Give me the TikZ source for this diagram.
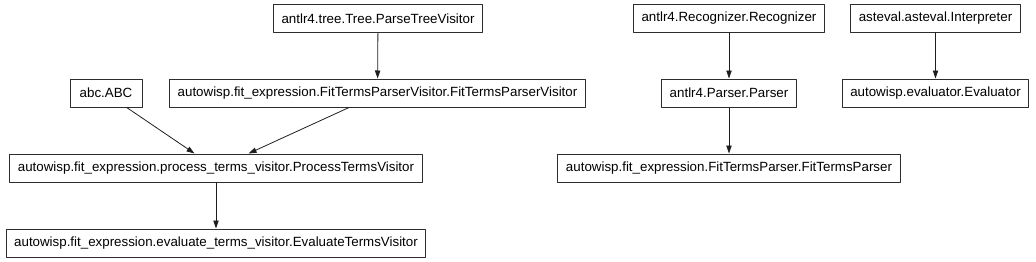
\documentclass[tikz,border=0pt]{standalone}
\usepackage{fontspec}
\setmainfont{Liberation Sans}
\usepackage{xcolor}
\usepackage{tikz}
\usetikzlibrary{arrows.meta}
\definecolor{classedge}{RGB}{45,45,45}
\definecolor{linkgray}{RGB}{30,30,30}
\tikzset{
  classbox/.style={draw=classedge, line width=.75pt, rectangle,
    inner xsep=6pt, inner ysep=0pt, minimum height=21pt, minimum width=54pt,
    font=\fontsize{10}{12}\selectfont},
  inherits/.style={draw=linkgray, line width=.6pt,
    -{Triangle[length=6pt,width=4pt]}}
}

\begin{document}
\begin{tikzpicture}[x=.75pt, y=-.75pt, line cap=round, line join=round]
  % One unit is one pixel of the target, measured from the top left corner.
  \useasboundingbox (0,0) rectangle (1036,261);

  % Visitor branch.
  \node[classbox] (treevisitor) at (378,18.5)
    {antlr4.tree.Tree.ParseTreeVisitor};
  \node[classbox] (abcbase) at (106,93) {abc.ABC};
  \node[classbox] (fitvisitor) at (377.5,93)
    {autowisp.fit\_expression.FitTermsParserVisitor.FitTermsParserVisitor};
  \node[classbox] (processvisitor) at (216,168)
    {autowisp.fit\_expression.process\_terms\_visitor.ProcessTermsVisitor};
  \node[classbox] (evaluatevisitor) at (216,243)
    {autowisp.fit\_expression.evaluate\_terms\_visitor.EvaluateTermsVisitor};

  % Parser branch.
  \node[classbox] (recognizer) at (729,18.5) {antlr4.Recognizer.Recognizer};
  \node[classbox] (antlrparser) at (729,93) {antlr4.Parser.Parser};
  \node[classbox] (fitparser) at (729,168)
    {autowisp.fit\_expression.FitTermsParser.FitTermsParser};

  % Evaluator branch.
  \node[classbox] (interpreter) at (935.5,18.5)
    {asteval.asteval.Interpreter};
  \node[classbox] (evaluator) at (935.5,93) {autowisp.evaluator.Evaluator};

  % The two parents of the process visitor meet its top edge apart.
  \draw[inherits] (treevisitor) -- (fitvisitor);
  \draw[inherits] (abcbase.-35) -- (processvisitor.146);
  \draw[inherits] (fitvisitor.207) -- (processvisitor.24);
  \draw[inherits] (processvisitor) -- (evaluatevisitor);
  \draw[inherits] (recognizer) -- (antlrparser);
  \draw[inherits] (antlrparser) -- (fitparser);
  \draw[inherits] (interpreter) -- (evaluator);
\end{tikzpicture}
\end{document}
